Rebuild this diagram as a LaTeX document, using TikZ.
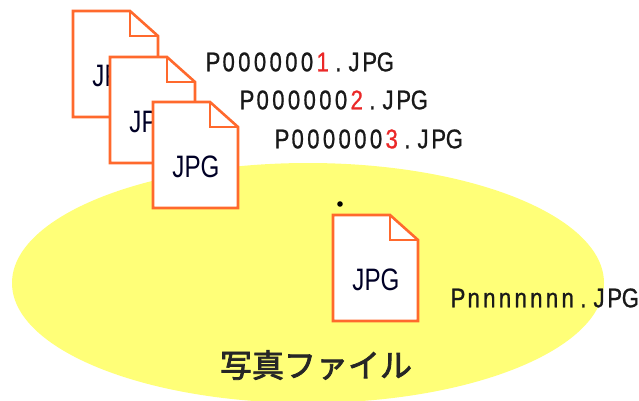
\documentclass[tikz,border=0pt]{standalone}
\usepackage{fontspec}
\setmainfont{Liberation Sans}
\newfontfamily\cjk[FakeBold=2.5]{Noto Sans CJK JP}
\newfontfamily\namefont[FakeStretch=0.82,FakeBold=0.8]{Liberation Sans}
\definecolor{fileor}{RGB}{255,105,45}
\definecolor{blobfill}{RGB}{255,255,120}
\definecolor{numred}{RGB}{235,40,40}
\makeatletter
\newcommand{\cellchars}[1]{\@tfor\cellch:=#1\do{\makebox[15.67pt]{\cellch}}}
\makeatother
\tikzset{x=1pt,y=-1pt,
 pagefill/.style={draw=fileor,line width=2.6pt,fill=white,line join=miter},
 foldline/.style={draw=fileor,line width=2.6pt},
 fname/.style={font=\namefont\fontsize{27}{27}\selectfont,anchor=west,inner sep=0pt,text=black!90},
 jpglabel/.style={font=\fontsize{31}{31}\selectfont,inner sep=0pt,text=black!85!blue},
 title/.style={font=\cjk\fontsize{32}{32}\selectfont,inner sep=0pt,text=black!85}}
\newcommand{\jpgpage}[3]{%
 \draw[pagefill] (#1,#2) -- ++(57,0) -- ++(28,25) -- ++(0,81) -- ++(-85,0) -- cycle;
 \draw[foldline] (#1+57,#2) -- ++(0,25) -- ++(28,0);
 \node[jpglabel] (#3) at (#1+43,#2+65) {\scalebox{0.78}[1]{JPG}};}
\begin{document}
\begin{tikzpicture}
\useasboundingbox (0,0) rectangle (639,401);
\fill[white] (0,0) rectangle (639,401);
\fill[blobfill] (308,283) ellipse [x radius=296,y radius=120];
\jpgpage{73}{11}{p1}
\jpgpage{110}{57}{p2}
\jpgpage{153}{102}{p3}
\jpgpage{333}{215}{p4}
\fill[black] (340,204) circle (2.8);
\node[fname] (n1) at (205,62) {\cellchars{P000000}\textcolor{numred}{\cellchars{1}}\cellchars{.JPG}};
\node[fname] (n2) at (239,100) {\cellchars{P000000}\textcolor{numred}{\cellchars{2}}\cellchars{.JPG}};
\node[fname] (n3) at (274,139) {\cellchars{P000000}\textcolor{numred}{\cellchars{3}}\cellchars{.JPG}};
\node[fname] (n4) at (450,298) {\cellchars{Pnnnnnnn.JPG}};
\node[title] (t) at (316,365) {写真ファイル};
\end{tikzpicture}
\end{document}
